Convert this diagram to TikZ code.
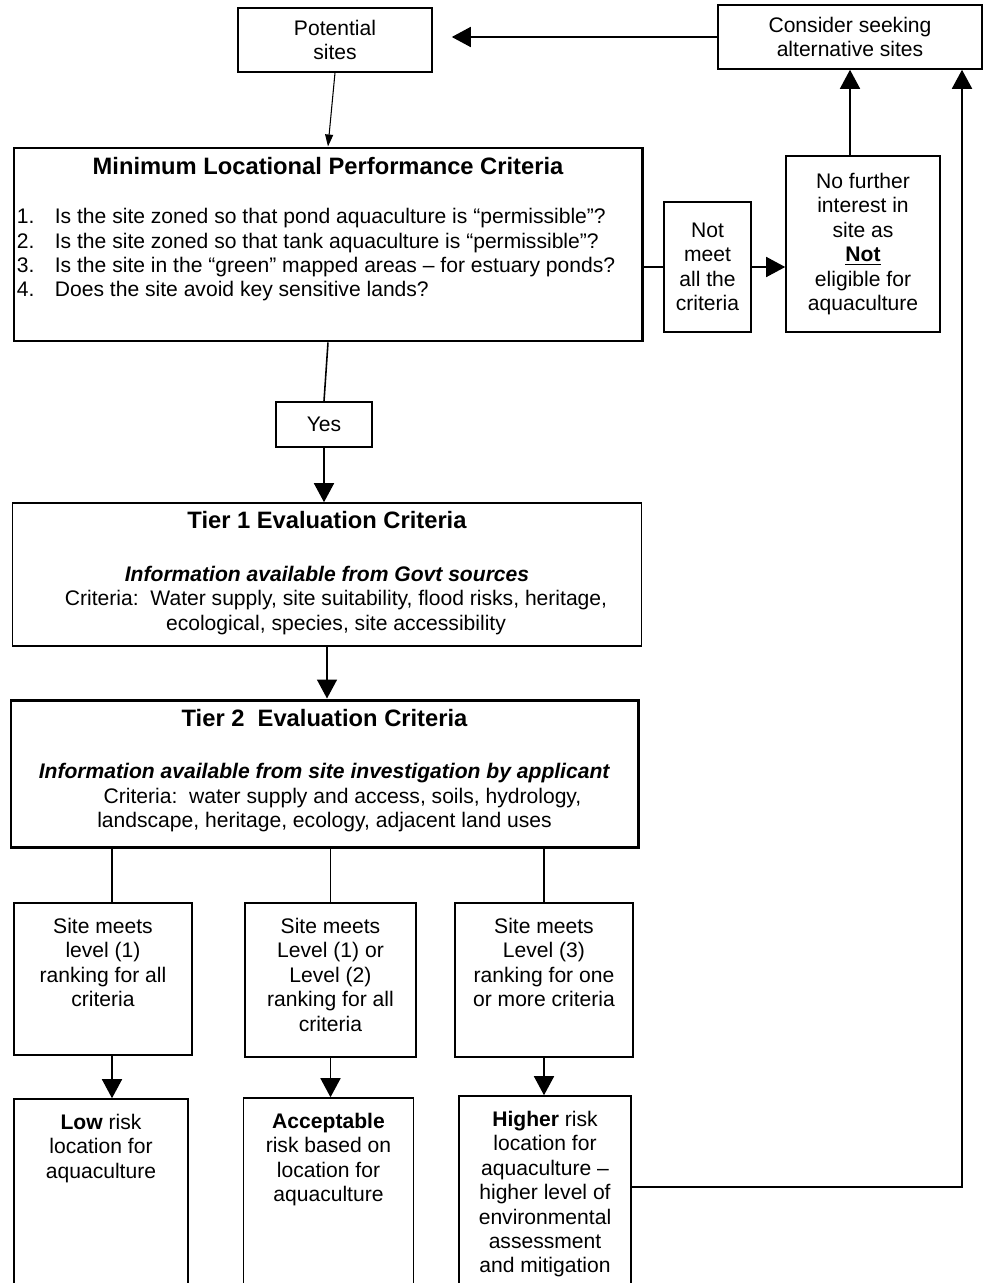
\documentclass[tikz,border=0pt]{standalone}
\usepackage{fontspec}
\setmainfont{Liberation Sans}
\usetikzlibrary{arrows.meta,positioning}
\tikzset{
  blk/.style={draw=black,line width=0.9pt,align=center,inner sep=2pt,
              font=\fontsize{12}{13.9}\selectfont},
  bigblk/.style={blk,line width=1.7pt},
  txt/.style={align=center,inner sep=0pt,font=\fontsize{12}{13.9}\selectfont},
  ttl/.style={inner sep=0pt,font=\fontsize{13.5}{16}\selectfont\bfseries},
  ln/.style={line width=0.9pt},
  arr/.style={-{Triangle[length=3.8mm,width=4mm]},line width=0.9pt},
  sarr/.style={-{Triangle[length=2.4mm,width=1.6mm]},line width=0.6pt},
}
\begin{document}
\begin{tikzpicture}
\useasboundingbox (0,0) rectangle (19.68,-25.66);
\clip (0,0) rectangle (19.68,-25.66);
% top row
\node[blk,minimum width=3.88cm,minimum height=1.28cm] (pot) at (6.70,-0.80) {Potential\\sites};
\node[blk,minimum width=5.28cm,minimum height=1.28cm] (alt) at (17.00,-0.74) {Consider seeking\\alternative sites};
\draw[arr,shorten >=0.38cm] (alt.west) -- (alt.west -| pot.east);
% minimum criteria
\node[bigblk,minimum width=12.56cm,minimum height=3.86cm] (mlpc) at (6.56,-4.89) {};
\node[ttl,below=0.20cm of mlpc.north] (mlpct) {Minimum Locational Performance Criteria};
\node[txt,align=left,anchor=north west] (mlpcq) at ([xshift=0.08cm,yshift=-1.23cm]mlpc.north west)
  {\makebox[0.76cm][l]{1.}Is the site zoned so that pond aquaculture is “permissible”?\\
   \makebox[0.76cm][l]{2.}Is the site zoned so that tank aquaculture is “permissible”?\\
   \makebox[0.76cm][l]{3.}Is the site in the “green” mapped areas – for estuary ponds?\\
   \makebox[0.76cm][l]{4.}Does the site avoid key sensitive lands?};
\draw[sarr] (pot.south) -- (mlpc.north);
% not eligible branch
\node[blk,minimum width=1.74cm,minimum height=2.60cm] (nm) at (14.15,-5.34) {Not\\meet\\all the\\criteria};
\node[blk,minimum width=3.08cm,minimum height=3.52cm] (nofur) at (17.26,-4.88)
  {No further\\interest in\\site as\\\underline{\textbf{Not}}\\eligible for\\aquaculture};
\draw[ln] (mlpc.east |- nm) -- (nm.west);
\draw[arr] (nm.east) -- (nm.east -| nofur.west);
\draw[arr] (nofur.north -| alt.south) -- (alt.south);
% yes
\node[blk,minimum width=1.92cm,minimum height=0.90cm] (yes) at (6.48,-8.49) {Yes};
\draw[ln] (mlpc.south) -- (yes.north);
% tier 1
\node[blk,minimum width=12.58cm,minimum height=2.86cm] (t1) at (6.54,-11.49) {};
\node[ttl,below=0.18cm of t1.north] (t1t) {Tier 1 Evaluation Criteria};
\node[txt,below=1.27cm of t1.north] (t1b)
  {\textbf{\textit{Information available from Govt sources}}\\
   \hspace*{0.36cm}Criteria:\ \ Water supply, site suitability, flood risks, heritage,\\
   \hspace*{0.36cm}ecological, species, site accessibility};
\draw[arr] (yes.south) -- (yes.south |- t1.north);
% tier 2
\node[bigblk,minimum width=12.54cm,minimum height=2.94cm] (t2) at (6.49,-15.47) {};
\node[ttl,below=0.20cm of t2.north] (t2t) {Tier 2\ \ Evaluation Criteria};
\node[txt,below=1.29cm of t2.north] (t2b)
  {\textbf{\textit{Information available from site investigation by applicant}}\\
   \hspace*{0.72cm}Criteria:\ \ water supply and access, soils, hydrology,\\
   landscape, heritage, ecology, adjacent land uses};
\draw[arr] (t1.south) -- (t1.south |- t2.north);
% site rankings
\node[blk,minimum width=3.55cm,minimum height=3.04cm] (s1) at (2.06,-19.58) {};
\node[blk,minimum width=3.41cm,minimum height=3.08cm] (s2) at (6.61,-19.60) {};
\node[blk,minimum width=3.57cm,minimum height=3.08cm] (s3) at (10.88,-19.60) {};
\node[txt,below=0.31cm of s1.north] (s1t) {Site meets\\level (1)\\ranking for all\\criteria};
\node[txt,below=0.31cm of s2.north] (s2t) {Site meets\\Level (1) or\\Level (2)\\ranking for all\\criteria};
\node[txt,below=0.31cm of s3.north] (s3t) {Site meets\\Level (3)\\ranking for one\\or more criteria};
% risk outcomes
\node[blk,minimum width=3.48cm,minimum height=4.02cm] (r1) at (2.02,-23.99) {};
\node[blk,minimum width=3.40cm,minimum height=4.04cm] (r2) at (6.57,-23.98) {};
\node[blk,minimum width=3.44cm,minimum height=4.08cm] (r3) at (10.90,-23.96) {};
\node[txt,below=0.31cm of r1.north] (r1t) {\textbf{Low} risk\\location for\\aquaculture};
\node[txt,below=0.31cm of r2.north] (r2t) {\textbf{Acceptable}\\risk based on\\location for\\aquaculture};
\node[txt,below=0.31cm of r3.north] (r3t) {\textbf{Higher} risk\\location for\\aquaculture –\\higher level of\\environmental\\assessment\\and mitigation};
% flows
\coordinate (c1) at ([xshift=0.18cm]s1.north);
\draw[ln] (c1 |- t2.south) -- (c1);
\draw[ln] (s2.north |- t2.south) -- (s2.north);
\draw[ln] (s3.north |- t2.south) -- (s3.north);
\draw[arr] (c1 |- s1.south) -- (c1 |- r1.north);
\draw[arr] (s2.south) -- (s2.south |- r2.north);
\draw[arr] (s3.south) -- (s3.south |- r3.north);
% back to alternative sites
\coordinate (loop) at (19.24,-23.74);
\draw[arr,line width=1.1pt] (r3.east |- loop) -- (loop) -- (loop |- alt.south);
\end{tikzpicture}
\end{document}
